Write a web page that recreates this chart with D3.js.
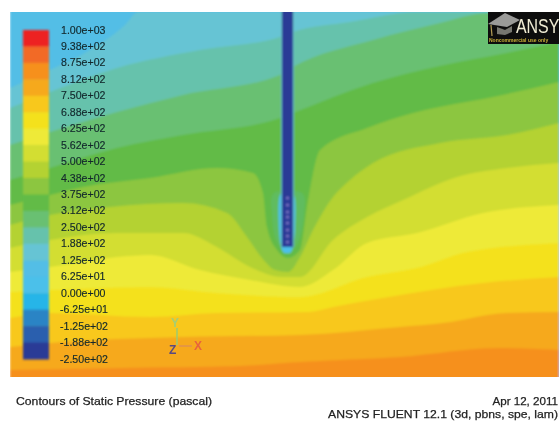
<!DOCTYPE html>
<html>
<head>
<meta charset="utf-8">
<script src="https://cdn.jsdelivr.net/npm/d3@7"></script>
<style>
  html, body { margin: 0; padding: 0; background: #fff; }
  svg { display: block; }
  text { font-family: "Liberation Sans", Arial, sans-serif; }
</style>
</head>
<body>
<div class="contour"></div>
<script>
// pressure levels (pascal), legend reads top to bottom
const legendLevels = [1000, 937.5, 875, 812.5, 750, 687.5, 625, 562.5, 500, 437.5, 375, 312.5, 250, 187.5, 125, 62.5, 0, -62.5, -125, -187.5, -250];
const legendLabels = ["1.00e+03", "9.38e+02", "8.75e+02", "8.12e+02", "7.50e+02", "6.88e+02", "6.25e+02", "5.62e+02", "5.00e+02", "4.38e+02", "3.75e+02", "3.12e+02", "2.50e+02", "1.88e+02", "1.25e+02", "6.25e+01", "0.00e+00", "-6.25e+01", "-1.25e+02", "-1.88e+02", "-2.50e+02"];
// one colour per band, lowest pressure first
const bandColors = ["#2b3b96", "#2c5fae", "#2b84c5", "#27b5e8", "#4cc0ea", "#53bee6", "#66c4d4", "#66c2ac", "#69c072", "#62bb46", "#8cc63f", "#b4d232", "#d3de32", "#eeea39", "#f4e11c", "#f8c81f", "#f6a91b", "#f6901e", "#f26a28", "#ed2024"];

// isobars as [distance, height]
const isobar125 = [[0,289],[40,307],[80,327],[115,352],[128,365],[549,365]];
const isobar188 = [[0,269],[40,285],[107,309],[190,327],[270,340],[283,345],[340,355],[407,365],[549,365]];
const isobar250 = [[0,232],[40,245],[107,265],[173,282],[270,302],[283,310],[363,337],[430,354],[477,364],[549,365]];
const isobar312 = [[0,197],[40,209],[107,229],[173,242],[270,259],[283,264],[363,294],[430,311],[497,324],[549,335]];
const isobar375 = [[0,172],[40,182],[73,190],[140,199],[207,209],[243,204],[253,184],[257,150],[267,127],[278,119],[290,127],[298,177],[310,227],[357,249],[403,264],[483,280],[549,295]];
const isobar438 = [[0,152],[40,162],[100,170],[173,174],[217,164],[237,140],[252,119],[265,107],[278,105],[290,120],[303,147],[323,180],[340,197],[363,214],[430,234],[497,242],[549,254]];
const isobar500 = [[0,129],[40,137],[107,144],[173,144],[207,130],[240,110],[273,100],[290,100],[323,137],[357,160],[393,177],[447,200],[497,209],[549,214]];
const isobar562 = [[0,105],[40,110],[107,120],[140,122],[190,107],[240,97],[290,90],[323,107],[357,134],[407,144],[473,164],[549,172]];
const isobar625 = [[0,85],[40,87],[140,90],[207,84],[290,80],[357,100],[407,109],[457,125],[549,134]];
const isobar688 = [[0,59],[40,64],[140,60],[207,64],[299,65],[323,70],[373,79],[473,94],[549,100]];
const isobar750 = [[0,30],[40,34],[173,40],[290,42],[390,50],[433,54],[497,64],[549,65]];
const isobar812 = [[0,7],[110,9],[230,11],[290,15],[390,20],[490,29],[549,27]];

const isobarLevels = [125, 187.5, 250, 312.5, 375, 437.5, 500, 562.5, 625, 687.5, 750, 812.5];
const isobars = [isobar125, isobar188, isobar250, isobar312, isobar375, isobar438, isobar500, isobar562, isobar625, isobar688, isobar750, isobar812];

// low pressure pockets round the probe tip
const haloOuter = [[264,184],[262,162],[266,137],[278,123],[289,137],[294,162],[292,184]];
const haloInner = [[270,182],[269,147],[272,127],[277,124],[282,127],[285,147],[284,182]];

// probe
const probeX = [272, 283];
const probeTip = 130;
const probeCells = [179, 172, 165, 160, 154, 147, 141, 135];

const W = 559, H = 421;
const plot = { left: 10, right: 559, top: 12, bottom: 377 };

const xScale = d3.scaleLinear().domain([0, 549]).range([plot.left, plot.right]);
const yScale = d3.scaleLinear().domain([0, 365]).range([plot.bottom, plot.top]);
const legendY = d3.scaleLinear().domain([1000, -250]).range([30, 359]);
const pressureColor = d3.scaleQuantize().domain([-250, 1000]).range(bandColors);

const svg = d3.select(".contour").append("svg").attr("width", W).attr("height", H);

const defs = svg.append("defs");
defs.append("filter").attr("id", "soft").attr("x", "-5%").attr("y", "-5%").attr("width", "110%").attr("height", "110%")
    .append("feGaussianBlur").attr("stdDeviation", 1.1);
defs.append("filter").attr("id", "softText").attr("x", "-5%").attr("y", "-30%").attr("width", "110%").attr("height", "160%")
    .append("feGaussianBlur").attr("stdDeviation", 0.5);
defs.append("clipPath").attr("id", "plotClip").append("rect")
    .attr("x", plot.left).attr("y", plot.top)
    .attr("width", plot.right - plot.left).attr("height", plot.bottom - plot.top);

const outer = svg.append("g").attr("clip-path", "url(#plotClip)");
const field = outer.append("g").attr("filter", "url(#soft)");

// base band, everything under the first isobar
field.append("rect")
    .attr("x", plot.left).attr("y", plot.top - 5)
    .attr("width", plot.right - plot.left + 5).attr("height", plot.bottom - plot.top + 10)
    .attr("fill", pressureColor(90));

const area = d3.area()
    .x(d => xScale(d[0]))
    .y0(yScale(-5))
    .y1(d => yScale(d[1]))
    .curve(d3.curveMonotoneX);

field.selectAll(".band")
    .data(isobars)
    .enter()
    .append("path")
    .attr("class", "band")
    .attr("d", area)
    .attr("fill", (d, i) => pressureColor(isobarLevels[i] + 31));

const closedLine = d3.line()
    .x(d => xScale(d[0]))
    .y(d => yScale(d[1]))
    .curve(d3.curveCardinalClosed);

field.append("path").datum(haloOuter).attr("d", closedLine).attr("fill", "#5fbd72").attr("opacity", 0.55);
field.append("path").datum(haloInner).attr("d", closedLine).attr("fill", pressureColor(30));

// thin edge and body of the probe
field.append("rect")
    .attr("x", xScale(probeX[0]) - 1).attr("width", xScale(probeX[1]) - xScale(probeX[0]) + 2)
    .attr("y", plot.top - 5).attr("height", yScale(probeTip) - plot.top + 5)
    .attr("fill", "#62b8c4");
field.append("rect")
    .attr("x", xScale(probeX[0])).attr("width", xScale(probeX[1]) - xScale(probeX[0]))
    .attr("y", plot.top - 5).attr("height", yScale(probeTip) - plot.top + 5)
    .attr("fill", pressureColor(-240));
field.selectAll(".cell")
    .data(probeCells)
    .enter()
    .append("circle")
    .attr("class", "cell")
    .attr("cx", xScale((probeX[0] + probeX[1]) / 2))
    .attr("cy", d => yScale(d))
    .attr("r", 1.5)
    .attr("fill", "#7a72c4");

// logo block, top right
const logo = outer.append("g").attr("filter", "url(#softText)");
logo.append("rect").attr("x", 488).attr("y", 11).attr("width", 72).attr("height", 33).attr("fill", "#111");
logo.append("path").attr("d", "M488,24 L505,13 L520,20 L507,27 Z").attr("fill", "#9a9a98");
logo.append("path").attr("d", "M497,27 L497,34 L505,35 L512,32 L512,26 L505,30 Z").attr("fill", "#77776f");
logo.append("path").attr("d", "M491,25 L492,36").attr("stroke", "#b59e55").attr("stroke-width", 1.2);
logo.append("text").attr("x", 516).attr("y", 33).attr("font-size", 21)
    .attr("textLength", 54).attr("lengthAdjust", "spacingAndGlyphs").attr("fill", "#f0ecd4").text("ANSYS");
logo.append("text").attr("x", 489).attr("y", 42).attr("font-size", 5).attr("font-weight", "bold")
    .attr("fill", "#c8ae36").text("Noncommercial use only");

// legend
const legend = svg.append("g");
legend.append("g").attr("filter", "url(#soft)")
    .selectAll("rect")
    .data(legendLevels.slice(0, -1))
    .enter()
    .append("rect")
    .attr("x", 23)
    .attr("width", 26)
    .attr("y", d => legendY(d))
    .attr("height", (d, i) => legendY(legendLevels[i + 1]) - legendY(d) + 0.5)
    .attr("fill", d => pressureColor(d - 31));

const labels = svg.append("g").attr("filter", "url(#softText)");
labels.selectAll(".tick")
    .data(legendLabels)
    .enter()
    .append("text")
    .attr("class", "tick")
    .attr("x", d => d[0] === "-" ? 60 : 61)
    .attr("y", (d, i) => legendY(legendLevels[i]) + 3.5)
    .attr("font-size", 10.6)
    .attr("fill", "#14282c")
    .attr("stroke", "#14282c")
    .attr("stroke-width", 0.15)
    .text(d => d);

// coordinate triad
const triad = svg.append("g").attr("filter", "url(#softText)");
triad.append("line").attr("x1", 177).attr("y1", 328).attr("x2", 177).attr("y2", 345).attr("stroke", "#9ccb6f").attr("stroke-width", 1.5);
triad.append("line").attr("x1", 179).attr("y1", 346).attr("x2", 192).attr("y2", 346).attr("stroke", "#d98a5a").attr("stroke-width", 1.2);
triad.append("text").attr("x", 171).attr("y", 327).attr("font-size", 12).attr("font-weight", "bold").attr("fill", "#a6cf72").text("Y");
triad.append("text").attr("x", 194).attr("y", 350).attr("font-size", 12).attr("font-weight", "bold").attr("fill", "#e8643c").text("X");
triad.append("text").attr("x", 169).attr("y", 354).attr("font-size", 12).attr("font-weight", "bold").attr("fill", "#5a4a80").text("Z");

// caption lines
const caption = svg.append("g").attr("filter", "url(#softText)").attr("fill", "#222");
caption.append("text").attr("x", 16).attr("y", 405).attr("font-size", 11.6)
    .attr("textLength", 196).attr("lengthAdjust", "spacingAndGlyphs")
    .attr("stroke", "#222").attr("stroke-width", 0.25)
    .text("Contours of Static Pressure (pascal)");
caption.append("text").attr("x", 558).attr("y", 405).attr("font-size", 11.6).attr("text-anchor", "end")
    .attr("stroke", "#222").attr("stroke-width", 0.25)
    .text("Apr 12, 2011");
caption.append("text").attr("x", 558).attr("y", 418).attr("font-size", 11.6).attr("text-anchor", "end")
    .attr("textLength", 230).attr("lengthAdjust", "spacingAndGlyphs")
    .attr("stroke", "#222").attr("stroke-width", 0.25)
    .text("ANSYS FLUENT 12.1 (3d, pbns, spe, lam)");
</script>
</body>
</html>
